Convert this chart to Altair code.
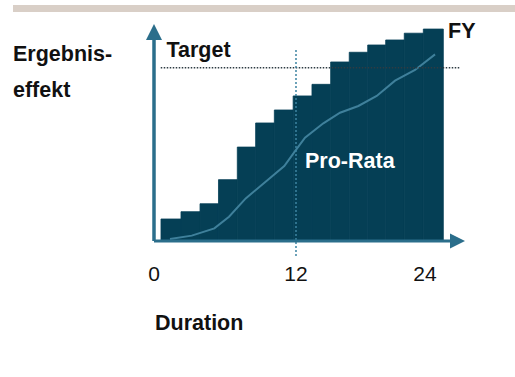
import altair as alt
import pandas as pd

# Step profile: each bar runs from step_start to step_end (months), height in % of target
step_start = [0.59, 2.28, 3.89, 5.45, 7.04, 8.59, 10.17, 11.76, 13.35, 14.93, 16.50, 18.06, 19.58, 21.15, 22.76]
step_end = [2.28, 3.89, 5.45, 7.04, 8.59, 10.17, 11.76, 13.35, 14.93, 16.50, 18.06, 19.58, 21.15, 22.76, 24.45]
step_value = [12.7, 16.9, 21.5, 35.4, 54.2, 68.1, 75.6, 83.7, 90.4, 103.3, 108.9, 113.1, 116.0, 119.9, 122.3]

# Pro-rata curve (months, % of target)
prorata_month = [1.35, 3.19, 5.10, 6.34, 7.75, 9.38, 11.01, 11.92, 12.76, 14.31, 15.72, 17.27, 18.82, 20.37, 22.06, 23.75]
prorata_value = [1.2, 3.1, 7.3, 14.0, 24.6, 33.9, 43.3, 51.9, 59.6, 67.9, 74.0, 77.9, 83.7, 92.5, 98.7, 107.7]

TARGET = 100
MID_MONTH = 12
tick_months = [0, 12, 24]
tick_labels = ["0", "12", "24"]

# Canvas / scale geometry
W, H = 515, 377
X0_PX, PX_PER_MONTH = 154, 11.833
Y0_PX, PX_PER_UNIT = 241, 1.733

x_scale = alt.Scale(domain=[-X0_PX / PX_PER_MONTH, (W - X0_PX) / PX_PER_MONTH], nice=False, zero=False)
y_scale = alt.Scale(domain=[-(H - Y0_PX) / PX_PER_UNIT, Y0_PX / PX_PER_UNIT], nice=False, zero=False)

FILL = "#053f55"
AXIS = "#2b6e8b"
LINE = "#3f809b"
FONT = "Liberation Sans, Arial, sans-serif"

steps = pd.DataFrame({"start": step_start, "end": step_end, "value": step_value})
prorata = pd.DataFrame({"month": prorata_month, "value": prorata_value})
ticks = pd.DataFrame({"month": tick_months, "label": tick_labels})

X = lambda f, **kw: alt.X(f, scale=x_scale, axis=None, **kw)
Y = lambda f, **kw: alt.Y(f, scale=y_scale, axis=None, **kw)

base = alt.Chart(pd.DataFrame({"k": [0]}))

# Header band
band = base.mark_rect(color="#d9cfc7").encode(
    x=alt.value(13), x2=alt.value(W), y=alt.value(5), y2=alt.value(12)
)

# Stroke in the fill colour closes the hairline gaps between adjacent steps
bars = alt.Chart(steps).mark_rect(color=FILL, stroke=FILL, strokeWidth=0.8).encode(
    x=X("start:Q"), x2="end:Q", y=Y("value:Q"), y2=alt.datum(0)
)

curve = alt.Chart(prorata).mark_line(color=LINE, strokeWidth=2).encode(
    x=X("month:Q"), y=Y("value:Q")
)

target_line = base.mark_rule(color="#2e3c43", strokeWidth=1.5, strokeDash=[1.5, 1.5]).encode(
    x=X("a:Q"), x2=alt.datum(25.86), y=Y("t:Q")
).transform_calculate(a="0.57", t=str(TARGET))

mid_line = base.mark_rule(color="#3d84a2", strokeWidth=1.5, strokeDash=[2, 2]).encode(
    x=X("m:Q"), y=Y("lo:Q"), y2=alt.datum(110.8)
).transform_calculate(m=str(MID_MONTH), lo="-8.7")

# Axes with arrow heads
y_shaft = base.mark_rule(color=AXIS, strokeWidth=3.5).encode(
    x=X("z:Q"), y=Y("z:Q"), y2=alt.datum(121)
).transform_calculate(z="0")
x_shaft = base.mark_rule(color=AXIS, strokeWidth=3).encode(
    x=X("z:Q"), x2=alt.datum(25.2), y=Y("z:Q")
).transform_calculate(z="0")
y_head = base.mark_point(shape="M0,-1L1,1L-1,1Z", filled=True, opacity=1, color=AXIS, size=256).encode(
    x=X("z:Q"), y=Y("h:Q")
).transform_calculate(z="0", h="120.6")
x_head = base.mark_point(shape="M-1,-1L1,0L-1,1Z", filled=True, opacity=1, color=AXIS, size=225).encode(
    x=X("h:Q"), y=Y("z:Q")
).transform_calculate(z="0", h="25.65")

tick_style = dict(font=FONT, fontSize=21, color="#111111", baseline="alphabetic")
tick_text = alt.Chart(ticks).mark_text(**tick_style).encode(
    x=X("month:Q"), y=alt.value(281), text="label:N"
).transform_filter(alt.datum.month < 24)
tick_last = alt.Chart(ticks).mark_text(dx=-13, **tick_style).encode(
    x=X("month:Q"), y=alt.value(281), text="label:N"
).transform_filter(alt.datum.month == 24)

def label(text, x, y, color="#111111", size=21.5, weight="bold"):
    return base.mark_text(
        text=text, font=FONT, fontSize=size, fontWeight=weight, color=color,
        align="left", baseline="alphabetic"
    ).encode(x=alt.value(x), y=alt.value(y))

texts = [
    label("Ergebnis-", 13, 61),
    label("effekt", 13, 96.5),
    label("Target", 166.5, 56.5),
    label("FY", 448, 38),
    label("Pro-Rata", 305, 167.5, color="#ffffff"),
    label("Duration", 155, 330),
]

chart = alt.layer(
    band, bars, curve, target_line, mid_line, y_shaft, x_shaft, y_head, x_head,
    tick_text, tick_last, *texts
).properties(
    width=W, height=H, autosize=alt.AutoSizeParams(type="none"), padding=0
).configure_view(stroke=None)

chart.save("out.html", embed_options={"renderer": "svg", "actions": False})
